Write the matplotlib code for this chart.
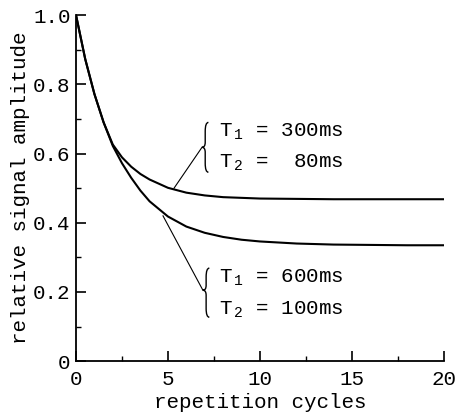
import matplotlib
matplotlib.use('Agg')
import matplotlib.pyplot as plt
from matplotlib.path import Path
from matplotlib.patches import PathPatch

plt.rcParams['font.family'] = ['Liberation Mono', 'DejaVu Sans Mono']
plt.rcParams['mathtext.fontset'] = 'custom'
plt.rcParams['mathtext.rm'] = 'Liberation Mono'
plt.rcParams['mathtext.it'] = 'Liberation Mono'
plt.rcParams['mathtext.default'] = 'regular'

# values
cycles = [0, 0.5, 1, 1.5, 2, 2.5, 3, 3.5, 4, 5, 6, 7, 8, 9, 10, 12, 14, 16, 18, 20]
amp_300_80 = [1.0, 0.873, 0.772, 0.690, 0.626, 0.589, 0.562, 0.541, 0.525, 0.501,
              0.487, 0.479, 0.474, 0.472, 0.470, 0.469, 0.468, 0.468, 0.468, 0.468]
amp_600_100 = [1.0, 0.873, 0.772, 0.690, 0.622, 0.572, 0.530, 0.493, 0.462, 0.418,
               0.389, 0.371, 0.359, 0.351, 0.346, 0.340, 0.337, 0.336, 0.335, 0.335]

xticks = [0, 5, 10, 15, 20]
yticks = [0, 0.2, 0.4, 0.6, 0.8, 1.0]
ytick_labels = ['0', '0.2', '0.4', '0.6', '0.8', '1.0']

fig = plt.figure(figsize=(4.58, 4.20), dpi=100)
ax = fig.add_axes([0.166, 0.140, 0.803, 0.824])

ax.plot(cycles, amp_300_80, color='black', lw=1.5)
ax.plot(cycles, amp_600_100, color='black', lw=1.5)

ax.set_xlim(0, 20)
ax.set_ylim(0, 1.0)
ax.set_xticks(xticks)
ax.set_xticks([2.5, 7.5, 12.5, 17.5], minor=True)
ax.set_yticks(yticks)
ax.set_yticklabels(ytick_labels)
ax.set_yticks([0.1, 0.3, 0.5, 0.7, 0.9], minor=True)
ax.tick_params(which='major', direction='in', length=7, width=1.2, labelsize=15, pad=6)
ax.tick_params(which='minor', direction='in', length=3.5, width=1.0)
ax.tick_params(axis='y', pad=4)

for s in ['top', 'right']:
    ax.spines[s].set_visible(False)
for s in ['left', 'bottom']:
    ax.spines[s].set_linewidth(1.3)

ax.set_xlabel('repetition cycles', fontsize=15, labelpad=3)
ax.set_ylabel('relative signal amplitude', fontsize=15, labelpad=2)


def brace(ax, x, y0, y1, w, ytip):
    # left curly brace, right edge at x, tip pointing left at ytip
    xm = x - w / 2
    h = y1 - y0
    verts = [(x, y1), (xm, y1), (xm, y1 - 0.18 * h),
             (xm, ytip + 0.1 * h),
             (xm, ytip), (x - w, ytip),
             (xm, ytip), (xm, ytip - 0.1 * h),
             (xm, y0 + 0.18 * h),
             (xm, y0), (x, y0)]
    codes = [Path.MOVETO, Path.CURVE3, Path.CURVE3,
             Path.LINETO,
             Path.CURVE3, Path.CURVE3,
             Path.CURVE3, Path.CURVE3,
             Path.LINETO,
             Path.CURVE3, Path.CURVE3]
    ax.add_patch(PathPatch(Path(verts, codes), fill=False, lw=1.0,
                           edgecolor='black', clip_on=False))


# upper annotation
brace(ax, 7.2, 0.546, 0.690, 0.35, 0.618)
ax.plot([5.33, 6.85], [0.500, 0.618], color='black', lw=0.8)
ax.text(7.8, 0.662, r'T$\,{}_1$ = 300ms', fontsize=15, va='center', ha='left')
ax.text(7.8, 0.572, r'T$\,{}_2$ =  80ms', fontsize=15, va='center', ha='left')

# lower annotation
brace(ax, 7.25, 0.127, 0.269, 0.35, 0.205)
ax.plot([4.73, 6.9], [0.420, 0.205], color='black', lw=0.8)
ax.text(7.8, 0.240, r'T$\,{}_1$ = 600ms', fontsize=15, va='center', ha='left')
ax.text(7.8, 0.147, r'T$\,{}_2$ = 100ms', fontsize=15, va='center', ha='left')

fig.savefig('out.png', dpi=100)
